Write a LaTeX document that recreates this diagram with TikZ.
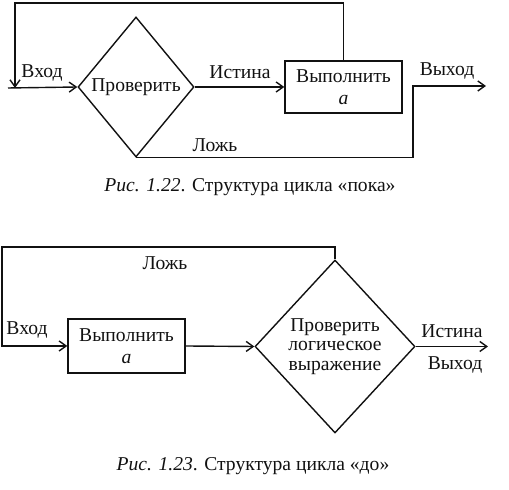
\documentclass[tikz,border=0pt]{standalone}
\usepackage{fontspec}
\setmainfont{Liberation Serif}
\usetikzlibrary{shapes.geometric,arrows.meta}
\definecolor{inkline}{HTML}{111111}

\begin{document}
\begin{tikzpicture}[x=0.5pt,y=-0.5pt,
  every node/.style={font=\fontsize{9.8}{11}\selectfont, text=inkline},
  flow/.style={draw=inkline, line width=0.7pt},
  arr/.style={flow, -{Straight Barb[length=3.5pt,width=5pt]}},
  actbox/.style={draw=inkline, line width=0.7pt, minimum width=58.5pt, minimum height=26pt, align=center, inner sep=0pt},
  testbox/.style={draw=inkline, line width=0.7pt, diamond, inner sep=0pt, align=center}]
\useasboundingbox (0,0) rectangle (509,490);
% --- loop "while" ---
\node[testbox, minimum width=58pt, minimum height=70pt] (chk1) at (136,87) {Проверить};
\node[actbox] (do1) at (343.5,87) {Выполнить\\\textit{a}};
\coordinate (in1) at (8,88);
\coordinate (lp1) at (15,3);
\coordinate (lp2) at (15,88);
\coordinate (turn1) at (413,86);
\coordinate (out1) at (486,86);
\draw[arr] (in1) -- (chk1.west);
\draw[arr] (chk1.east) -- (do1.west);
\draw[arr] (do1.north) |- (lp1) -- (lp2);
\draw[arr] (chk1.south) -| (turn1) -- (out1);
\node (vh1) at (42,73) {Вход};
\node (ist1) at (240,72) {Истина};
\node (vyh1) at (447,71) {Выход};
\node (lozh1) at (215,145) {Ложь};
\node (cap1) at (250,187) {\textit{Рис. 1.22}. Структура цикла «пока»};
% --- loop "until" ---
\node[actbox, minimum height=27pt] (do2) at (126.5,346) {Выполнить\\\textit{a}};
\node[testbox, minimum width=80pt, minimum height=86.5pt,
  font=\fontsize{9.8}{9.6}\selectfont] (chk2) at (335,346.5) {Проверить\\логическое\\выражение};
\coordinate (lp3) at (2,247);
\coordinate (out2) at (488,346.5);
\draw[arr] (chk2.north) |- (lp3) |- (do2.west);
\draw[arr] (do2.east) -- (chk2.west);
\draw[arr] (chk2.east) -- (out2);
\node (vh2) at (27,330) {Вход};
\node (lozh2) at (165,263) {Ложь};
\node (ist2) at (452,331) {Истина};
\node (vyh2) at (455,365) {Выход};
\node (cap2) at (253,466) {\textit{Рис. 1.23}. Структура цикла «до»};
\end{tikzpicture}
\end{document}
